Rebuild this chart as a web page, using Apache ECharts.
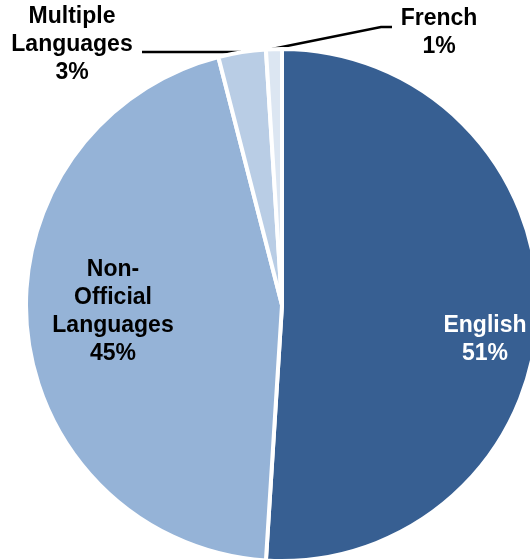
<!DOCTYPE html>
<html>
<head>
<meta charset="utf-8">
<script src="https://cdn.jsdelivr.net/npm/echarts@6/dist/echarts.min.js"></script>
<style>
  html, body { margin: 0; padding: 0; background: #fff; }
  #chart { width: 530px; height: 559px; }
</style>
</head>
<body>
<div id="chart"></div>
<script>
// Language share
const categories = ['English', 'Non-Official Languages', 'Multiple Languages', 'French'];
const shares = [51, 45, 3, 1];
const labelLines = [
  ['English'],
  ['Non-', 'Official', 'Languages'],
  ['Multiple', 'Languages'],
  ['French']
];
const sliceColors = ['#375f92', '#95b3d7', '#b9cde5', '#dce6f2'];

// Label anchor points and leader lines per slice
const labelPos = [
  { x: 485, y: 340 },
  { x: 113, y: 312 },
  { x: 72, y: 45 },
  { x: 439, y: 33 }
];
const leaderLines = [
  null,
  null,
  [[241, 52], [190, 52], [142, 52]],
  [[272, 49], [381, 27], [392, 27]]
];

const chart = echarts.init(document.getElementById('chart'));
chart.setOption({
  animation: false,
  series: [{
    type: 'pie',
    center: [282, 305],
    radius: [0, 256],
    startAngle: 90,
    clockwise: true,
    avoidLabelOverlap: false,
    data: categories.map((name, i) => ({
      name,
      value: shares[i],
      itemStyle: { color: sliceColors[i] },
      label: {
        position: i < 2 ? 'inside' : 'outside',
        color: i === 0 ? '#ffffff' : '#000000'
      },
      labelLine: { show: i >= 2 }
    })),
    itemStyle: { borderColor: '#ffffff', borderWidth: 4 },
    label: {
      show: true,
      fontFamily: 'Liberation Sans, Arial, sans-serif',
      fontWeight: 'bold',
      fontSize: 23,
      lineHeight: 28,
      align: 'center',
      formatter: (p) => labelLines[p.dataIndex].concat(p.value + '%').join('\n')
    },
    labelLine: {
      show: true,
      lineStyle: { color: '#000000', width: 2.5 }
    },
    labelLayout: (p) => {
      const pos = labelPos[p.dataIndex];
      const out = { x: pos.x, y: pos.y, align: 'center', verticalAlign: 'middle' };
      if (leaderLines[p.dataIndex]) out.labelLinePoints = leaderLines[p.dataIndex];
      return out;
    }
  }]
});
</script>
</body>
</html>
